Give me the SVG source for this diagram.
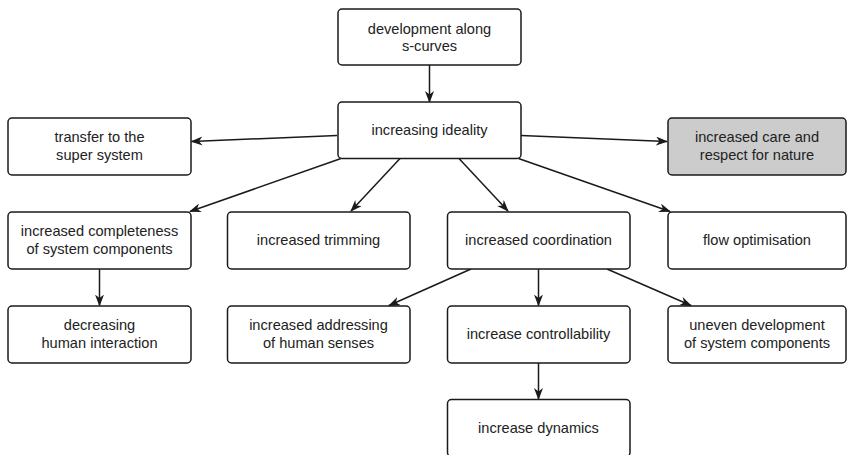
<svg xmlns="http://www.w3.org/2000/svg" width="847" height="455" viewBox="0 0 847 455">
<defs>
<style>
.box{fill:#ffffff;stroke:#1a1a1a;stroke-width:1.5}
.grey{fill:#cccccc}
text{font-family:"Liberation Sans",Arial,sans-serif;font-size:14.6px;fill:#222;text-anchor:middle}
.edge{stroke:#1a1a1a;stroke-width:1.5;fill:none;marker-end:url(#arr)}
</style>
<marker id="arr" markerWidth="14" markerHeight="12" refX="11" refY="4.5" orient="auto" markerUnits="userSpaceOnUse">
<path d="M0,0 L12,4.5 L0,9 L3.5,4.5 Z" fill="#1a1a1a"/>
</marker>
</defs>
<rect width="847" height="455" fill="#ffffff"/>
<g id="connectors">
<line class="edge" x1="429.5" y1="65" x2="429.5" y2="102"/>
<line class="edge" x1="337" y1="135.5" x2="191.5" y2="141.5"/>
<line class="edge" x1="521" y1="135.5" x2="667" y2="141.5"/>
<line class="edge" x1="341" y1="158.5" x2="190" y2="211.5"/>
<line class="edge" x1="400" y1="158.5" x2="351" y2="211"/>
<line class="edge" x1="459" y1="158.5" x2="508" y2="211"/>
<line class="edge" x1="518.5" y1="158.5" x2="670" y2="211.5"/>
<line class="edge" x1="99.5" y1="269" x2="99.5" y2="305.5"/>
<line class="edge" x1="471" y1="269" x2="389" y2="305.5"/>
<line class="edge" x1="538.5" y1="269" x2="538.5" y2="305.5"/>
<line class="edge" x1="607" y1="269" x2="691" y2="305.5"/>
<line class="edge" x1="538.5" y1="363" x2="538.5" y2="399"/>
</g>
<g id="n-scurves"><rect class="box" x="338" y="9" width="183" height="56" rx="4"/><text x="429.5" y="33.5">development along</text><text x="429.5" y="51">s-curves</text></g>
<g id="n-ideality"><rect class="box" x="338" y="102" width="183" height="56.5" rx="4"/><text x="429.5" y="135">increasing ideality</text></g>
<g id="n-transfer"><rect class="box" x="8" y="118" width="183" height="57" rx="4"/><text x="99.5" y="142">transfer to the</text><text x="99.5" y="159.5">super system</text></g>
<g id="n-nature"><rect class="box grey" x="668" y="118" width="178" height="57" rx="4"/><text x="757" y="142">increased care and</text><text x="757" y="159.5">respect for nature</text></g>
<g id="n-completeness"><rect class="box" x="8" y="212" width="183" height="57" rx="4"/><text x="99.5" y="236">increased completeness</text><text x="99.5" y="253.5">of system components</text></g>
<g id="n-trimming"><rect class="box" x="227.5" y="212" width="182.5" height="57" rx="4"/><text x="318.5" y="245">increased trimming</text></g>
<g id="n-coordination"><rect class="box" x="447.5" y="212" width="182.5" height="57" rx="4"/><text x="538.5" y="245">increased coordination</text></g>
<g id="n-flow"><rect class="box" x="668" y="212" width="178" height="57" rx="4"/><text x="757" y="245">flow optimisation</text></g>
<g id="n-decreasing"><rect class="box" x="8" y="306" width="183" height="57" rx="4"/><text x="99.5" y="330">decreasing</text><text x="99.5" y="347.5">human interaction</text></g>
<g id="n-addressing"><rect class="box" x="227.5" y="306" width="182.5" height="57" rx="4"/><text x="318.5" y="330">increased addressing</text><text x="318.5" y="347.5">of human senses</text></g>
<g id="n-controllability"><rect class="box" x="447.5" y="306" width="182.5" height="57" rx="4"/><text x="538.5" y="339">increase controllability</text></g>
<g id="n-uneven"><rect class="box" x="668" y="306" width="178" height="57" rx="4"/><text x="757" y="330">uneven development</text><text x="757" y="347.5">of system components</text></g>
<g id="n-dynamics"><rect class="box" x="447.5" y="399.5" width="182.5" height="57" rx="4"/><text x="538.5" y="432.5">increase dynamics</text></g>
</svg>
